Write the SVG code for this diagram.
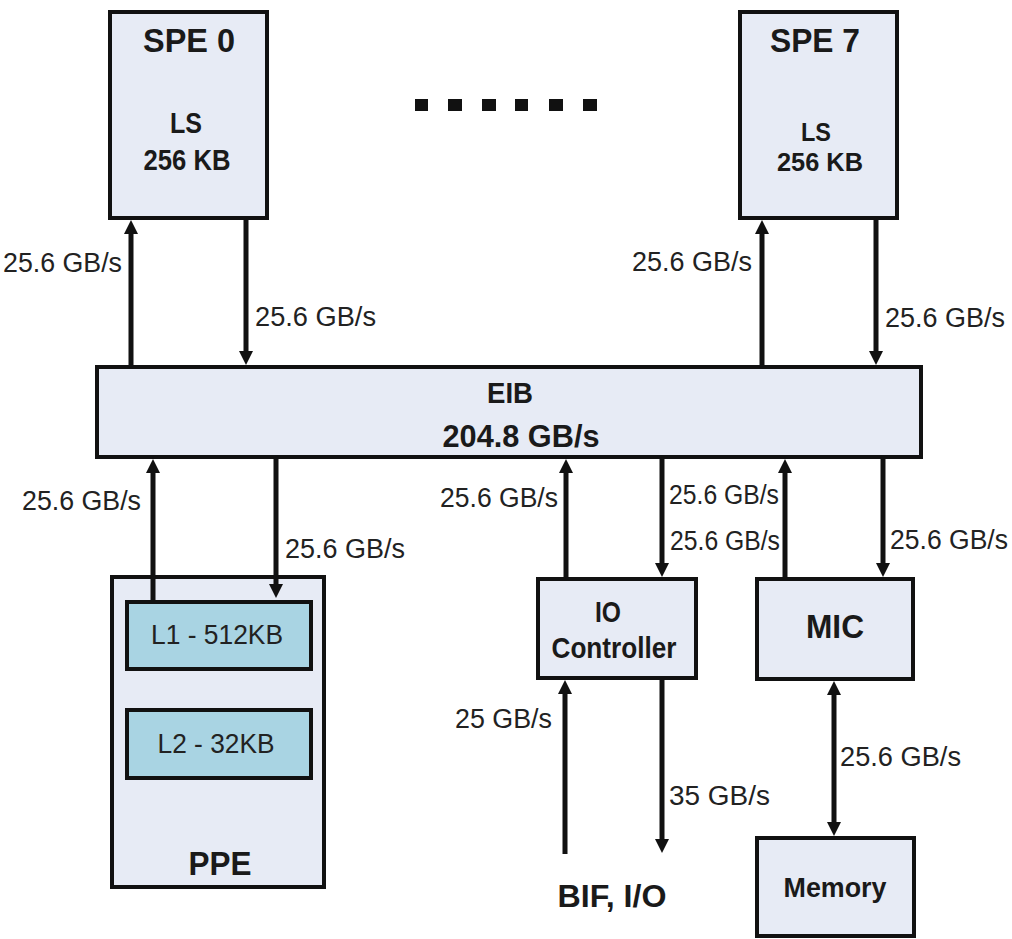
<svg xmlns="http://www.w3.org/2000/svg" width="1012" height="939" viewBox="0 0 1012 939">
<style>
  .box { fill: #e7ebf5; stroke: #111; stroke-width: 4; }
  .cache { fill: #a9d4e3; stroke: #111; stroke-width: 4; }
  .b { font-family: "Liberation Sans", Arial, sans-serif; font-weight: bold; fill: #1a1a1a; text-anchor: middle; }
  .r { font-family: "Liberation Sans", Arial, sans-serif; fill: #222; font-size: 27px; }
  .c { font-family: "Liberation Sans", Arial, sans-serif; fill: #222; font-size: 27px; text-anchor: middle; }
  .w { stroke: #111; stroke-width: 5; fill: none; marker-end: url(#ah); }
  .dot { fill: #111; }
</style>
<defs>
  <marker id="ah" viewBox="0 0 14 14" markerUnits="userSpaceOnUse" markerWidth="14" markerHeight="14" refX="4" refY="7" orient="auto-start-reverse">
    <path d="M0,0 L14,7 L0,14 z" fill="#111"/>
  </marker>
</defs>
<rect width="1012" height="939" fill="#fff"/>

<g id="spe0">
  <rect class="box" x="110" y="12" width="157" height="206"/>
  <text class="b" x="189" y="52" font-size="33" textLength="92" lengthAdjust="spacingAndGlyphs">SPE 0</text>
  <text class="b" x="186" y="133" font-size="29" textLength="32" lengthAdjust="spacingAndGlyphs">LS</text>
  <text class="b" x="187" y="170" font-size="29" textLength="87" lengthAdjust="spacingAndGlyphs">256 KB</text>
</g>

<g id="spe7">
  <rect class="box" x="740" y="12" width="157" height="206"/>
  <text class="b" x="815" y="52" font-size="33" textLength="90" lengthAdjust="spacingAndGlyphs">SPE 7</text>
  <text class="b" x="816" y="141" font-size="25" textLength="30" lengthAdjust="spacingAndGlyphs">LS</text>
  <text class="b" x="820" y="171" font-size="26" textLength="86" lengthAdjust="spacingAndGlyphs">256 KB</text>
</g>

<g id="ellipsis">
  <rect class="dot" x="415" y="99" width="13" height="12"/>
  <rect class="dot" x="448" y="99" width="14" height="12"/>
  <rect class="dot" x="482" y="99" width="14" height="12"/>
  <rect class="dot" x="515" y="99" width="13" height="12"/>
  <rect class="dot" x="549" y="99" width="14" height="12"/>
  <rect class="dot" x="583" y="99" width="14" height="12"/>
</g>

<g id="eib">
  <rect class="box" x="97" y="367" width="824" height="90"/>
  <text class="b" x="510" y="403" font-size="30" textLength="46" lengthAdjust="spacingAndGlyphs">EIB</text>
  <text class="b" x="521" y="447" font-size="31" textLength="157" lengthAdjust="spacingAndGlyphs">204.8 GB/s</text>
</g>

<g id="ppe">
  <rect class="box" x="112" y="577" width="212" height="310"/>
  <rect class="cache" x="127" y="602" width="184" height="67"/>
  <text class="c" x="217" y="644" textLength="132" lengthAdjust="spacingAndGlyphs">L1 - 512KB</text>
  <rect class="cache" x="127" y="710" width="184" height="68"/>
  <text class="c" x="216" y="753" textLength="117" lengthAdjust="spacingAndGlyphs">L2 - 32KB</text>
  <text class="b" x="220" y="875" font-size="33" textLength="63" lengthAdjust="spacingAndGlyphs">PPE</text>
</g>

<g id="io">
  <rect class="box" x="538" y="579" width="158" height="99"/>
  <text class="b" x="608" y="622" font-size="30" textLength="26" lengthAdjust="spacingAndGlyphs">IO</text>
  <text class="b" x="614" y="658" font-size="30" textLength="125" lengthAdjust="spacingAndGlyphs">Controller</text>
</g>

<g id="mic">
  <rect class="box" x="757" y="579" width="156" height="100"/>
  <text class="b" x="835" y="638" font-size="33" textLength="58" lengthAdjust="spacingAndGlyphs">MIC</text>
</g>

<g id="memory">
  <rect class="box" x="757" y="838" width="157" height="98"/>
  <text class="b" x="835" y="897" font-size="27" textLength="103" lengthAdjust="spacingAndGlyphs">Memory</text>
</g>

<g id="bif">
  <text class="b" x="612" y="907" font-size="31" textLength="109" lengthAdjust="spacingAndGlyphs">BIF, I/O</text>
</g>

<g id="connectors">
  <!-- SPE0 -->
  <line class="w" x1="131" y1="365" x2="131" y2="230"/>
  <line class="w" x1="246" y1="220" x2="246" y2="355"/>
  <!-- SPE7 -->
  <line class="w" x1="762" y1="365" x2="762" y2="230"/>
  <line class="w" x1="876" y1="220" x2="876" y2="355"/>
  <!-- PPE -->
  <line class="w" x1="153" y1="600" x2="153" y2="469"/>
  <line class="w" x1="276" y1="459" x2="276" y2="588"/>
  <!-- IO -->
  <line class="w" x1="566" y1="577" x2="566" y2="469"/>
  <line class="w" x1="662" y1="459" x2="662" y2="567"/>
  <!-- MIC -->
  <line class="w" x1="785" y1="577" x2="785" y2="469"/>
  <line class="w" x1="883" y1="459" x2="883" y2="567"/>
  <!-- IO - BIF -->
  <line class="w" x1="565" y1="854" x2="565" y2="690"/>
  <line class="w" x1="662" y1="680" x2="662" y2="843"/>
  <!-- MIC - Memory -->
  <line class="w" x1="834" y1="691" x2="834" y2="826" marker-start="url(#ah)"/>

  <g id="labels">
    <text class="r" x="3" y="272" textLength="119" lengthAdjust="spacingAndGlyphs">25.6 GB/s</text>
    <text class="r" x="255" y="326" textLength="121" lengthAdjust="spacingAndGlyphs">25.6 GB/s</text>
    <text class="r" x="632" y="271" textLength="120" lengthAdjust="spacingAndGlyphs">25.6 GB/s</text>
    <text class="r" x="885" y="327" textLength="120" lengthAdjust="spacingAndGlyphs">25.6 GB/s</text>
    <text class="r" x="22" y="510" textLength="119" lengthAdjust="spacingAndGlyphs">25.6 GB/s</text>
    <text class="r" x="285" y="558" textLength="120" lengthAdjust="spacingAndGlyphs">25.6 GB/s</text>
    <text class="r" x="440" y="507" textLength="118" lengthAdjust="spacingAndGlyphs">25.6 GB/s</text>
    <text class="r" x="669" y="504" font-size="25" textLength="110" lengthAdjust="spacingAndGlyphs">25.6 GB/s</text>
    <text class="r" x="670" y="550" font-size="25" textLength="110" lengthAdjust="spacingAndGlyphs">25.6 GB/s</text>
    <text class="r" x="890" y="549" textLength="118" lengthAdjust="spacingAndGlyphs">25.6 GB/s</text>
    <text class="r" x="455" y="728" textLength="97" lengthAdjust="spacingAndGlyphs">25 GB/s</text>
    <text class="r" x="669" y="805" textLength="101" lengthAdjust="spacingAndGlyphs">35 GB/s</text>
    <text class="r" x="840" y="766" textLength="121" lengthAdjust="spacingAndGlyphs">25.6 GB/s</text>
  </g>
</g>
</svg>
